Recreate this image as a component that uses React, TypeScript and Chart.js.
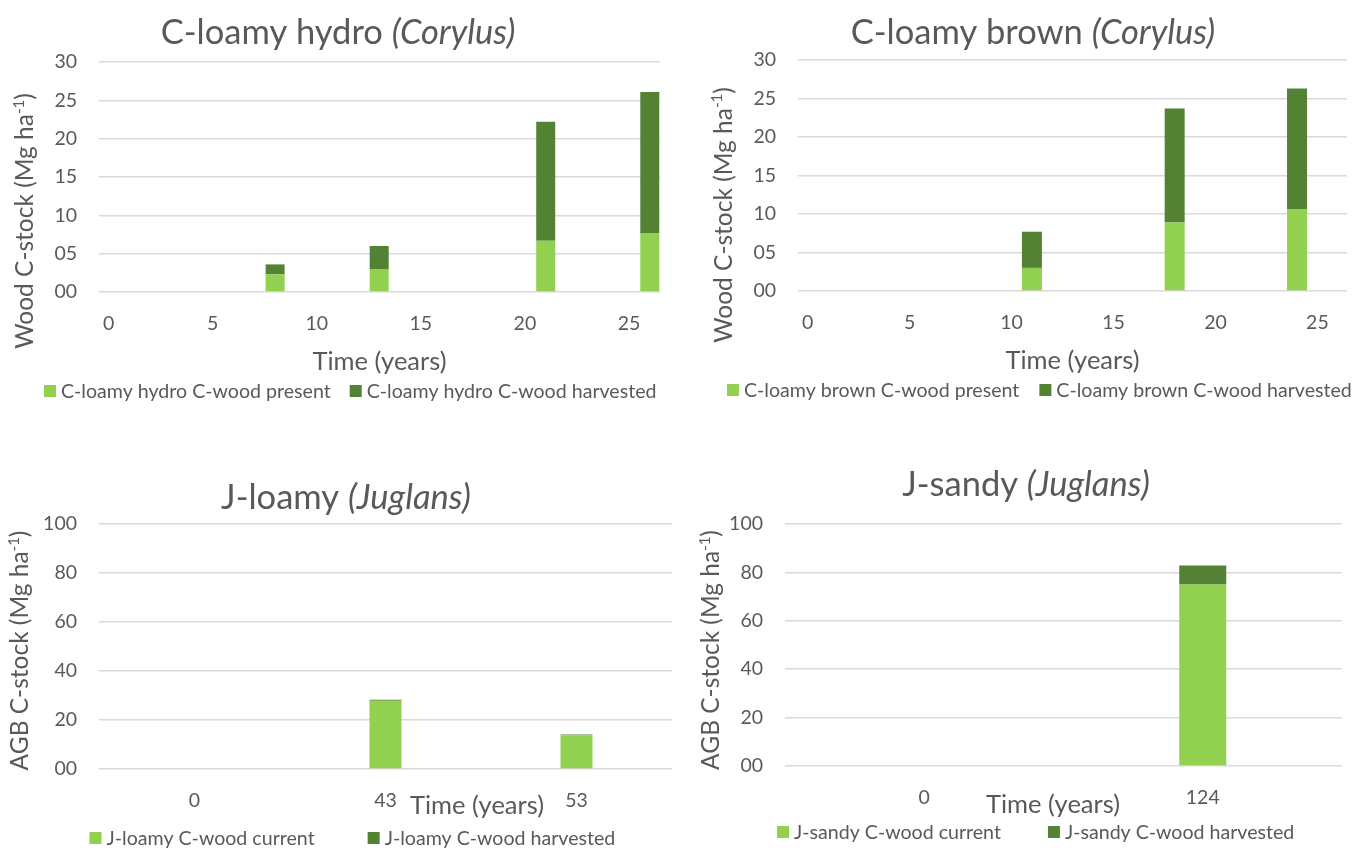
import React, { useEffect, useRef } from 'react';
import { Chart, registerables } from 'chart.js';

Chart.register(...registerables);

const FONT = 'Lato';
const TEXT = '#595959';
const LIGHT = '#92D050';
const DARK = '#548235';
const GRID = '#D9D9D9';

// C-loamy hydro (Corylus)
const hydroYears = [8, 13, 21, 26];
const hydroPresent = [2.3, 3.0, 6.7, 7.7];
const hydroHarvested = [1.3, 3.0, 15.5, 18.4];

// C-loamy brown (Corylus)
const brownYears = [11, 18, 24];
const brownPresent = [3.0, 8.9, 10.6];
const brownHarvested = [4.7, 14.8, 15.7];

const timeTicks = [0, 5, 10, 15, 20, 25];

// J-loamy (Juglans)
const jLoamyCats = ['0', '43', '53'];
const jLoamyCurrent = [0, 27.9, 13.8];
const jLoamyHarvested = [0, 0.4, 0.3];

// J-sandy (Juglans)
const jSandyCats = ['0', '124'];
const jSandyCurrent = [0, 75.0];
const jSandyHarvested = [0, 7.8];

type Panel = {
  x: number; y: number; w: number; h: number;
  area: { l: number; t: number; r: number; b: number };
  title: [string, string]; titleX: number; titleBase: number;
  xTitleX: number; xTitleBase: number;
  yTitle: string; yTitleBase: number; yTitleY: number;
  legend: [string, string]; legendX: number; legendY: number; legendGap: number;
  barW: number;
  kind: 'linear' | 'category';
  xMin?: number; xMax?: number;
  years?: number[]; cats?: string[];
  a: number[]; b: number[];
  yMax: number; yStep: number;
};

const panels: Panel[] = [
  {
    x: 0, y: 0, w: 680, h: 424,
    area: { l: 99, t: 62, r: 660, b: 292 },
    title: ['C-loamy hydro ', '(Corylus)'], titleX: 338, titleBase: 44,
    xTitleX: 379.5, xTitleBase: 370,
    yTitle: 'Wood C-stock (Mg ha', yTitleBase: 33, yTitleY: 221,
    legend: ['C-loamy hydro C-wood present', 'C-loamy hydro C-wood harvested'],
    legendX: 44, legendY: 391, legendGap: 19,
    barW: 19, kind: 'linear', xMin: -0.46, xMax: 26.49,
    years: hydroYears, a: hydroPresent, b: hydroHarvested, yMax: 30, yStep: 5,
  },
  {
    x: 680, y: 0, w: 682, h: 424,
    area: { l: 118, t: 60, r: 667, b: 291 },
    title: ['C-loamy brown ', '(Corylus)'], titleX: 353, titleBase: 44,
    xTitleX: 392.5, xTitleBase: 369.3,
    yTitle: 'Wood C-stock (Mg ha', yTitleBase: 51.5, yTitleY: 215,
    legend: ['C-loamy brown C-wood present', 'C-loamy brown C-wood harvested'],
    legendX: 47, legendY: 390, legendGap: 20,
    barW: 20, kind: 'linear', xMin: -0.47, xMax: 26.45,
    years: brownYears, a: brownPresent, b: brownHarvested, yMax: 30, yStep: 5,
  },
  {
    x: 0, y: 424, w: 680, h: 424,
    area: { l: 99, t: 100, r: 672, b: 345 },
    title: ['J-loamy ', '(Juglans)'], titleX: 346, titleBase: 84.5,
    xTitleX: 477, xTitleBase: 390,
    yTitle: 'AGB C-stock (Mg ha', yTitleBase: 28.4, yTitleY: 226.5,
    legend: ['J-loamy C-wood current', 'J-loamy C-wood harvested'],
    legendX: 89.5, legendY: 414, legendGap: 53,
    barW: 32, kind: 'category', cats: jLoamyCats,
    a: jLoamyCurrent, b: jLoamyHarvested, yMax: 100, yStep: 20,
  },
  {
    x: 680, y: 424, w: 682, h: 424,
    area: { l: 105, t: 100, r: 662, b: 342 },
    title: ['J-sandy ', '(Juglans)'], titleX: 346, titleBase: 71.5,
    xTitleX: 373, xTitleBase: 388.7,
    yTitle: 'AGB C-stock (Mg ha', yTitleBase: 39.3, yTitleY: 226,
    legend: ['J-sandy C-wood current', 'J-sandy C-wood harvested'],
    legendX: 97, legendY: 408, legendGap: 47,
    barW: 47, kind: 'category', cats: jSandyCats,
    a: jSandyCurrent, b: jSandyHarvested, yMax: 100, yStep: 20,
  },
];

const TITLE_SIZE = 34.5;
const X_TITLE_SIZE = 25.5;
const Y_TITLE_SIZE = 24.5;
const TICK_SIZE = 19.5;
const LEGEND_SIZE = 19.6;

function makeDecor(p: Panel) {
  return {
    id: 'decor',
    afterDraw(chart: any) {
      const ctx = chart.ctx as CanvasRenderingContext2D;
      ctx.save();
      ctx.fillStyle = TEXT;
      // Title
      const nf = `${TITLE_SIZE}px ${FONT}`;
      const itf = `italic ${TITLE_SIZE}px ${FONT}`;
      ctx.textBaseline = 'alphabetic';
      ctx.textAlign = 'left';
      ctx.font = nf;
      const w1 = ctx.measureText(p.title[0]).width;
      ctx.font = itf;
      const w2 = ctx.measureText(p.title[1]).width;
      const tx = p.titleX - (w1 + w2) / 2;
      ctx.font = nf;
      ctx.fillText(p.title[0], tx, p.titleBase);
      ctx.font = itf;
      ctx.fillText(p.title[1], tx + w1, p.titleBase);

      // X axis title
      ctx.font = `${X_TITLE_SIZE}px ${FONT}`;
      ctx.textAlign = 'center';
      ctx.fillText('Time (years)', p.xTitleX, p.xTitleBase);

      // Y axis title (rotated, with superscript)
      ctx.save();
      ctx.translate(p.yTitleBase, p.yTitleY);
      ctx.rotate(-Math.PI / 2);
      ctx.textAlign = 'left';
      const mf = `${Y_TITLE_SIZE}px ${FONT}`;
      const sf = `${Math.round(Y_TITLE_SIZE * 0.62)}px ${FONT}`;
      ctx.font = mf;
      const a1 = ctx.measureText(p.yTitle).width;
      const a3 = ctx.measureText(')').width;
      ctx.font = sf;
      const a2 = ctx.measureText('-1').width;
      const sx = -(a1 + a2 + a3) / 2;
      ctx.font = mf;
      ctx.fillText(p.yTitle, sx, 0);
      ctx.font = sf;
      ctx.fillText('-1', sx + a1, -Y_TITLE_SIZE * 0.38);
      ctx.font = mf;
      ctx.fillText(')', sx + a1 + a2, 0);
      ctx.restore();

      // Legend
      ctx.font = `${LEGEND_SIZE}px ${FONT}`;
      ctx.textAlign = 'left';
      ctx.textBaseline = 'middle';
      const cols = [LIGHT, DARK];
      let lx = p.legendX;
      p.legend.forEach((lab, i) => {
        ctx.fillStyle = cols[i];
        ctx.fillRect(lx, p.legendY - 6, 12, 12);
        lx += 12 + 5;
        ctx.fillStyle = TEXT;
        ctx.fillText(lab, lx, p.legendY + 1);
        lx += ctx.measureText(lab).width + p.legendGap;
      });
      ctx.restore();
    },
  };
}

function buildConfig(p: Panel): any {
  const isLin = p.kind === 'linear';
  const dsA = isLin ? p.years!.map((yr, i) => ({ x: yr, y: p.a[i] })) : p.a;
  const dsB = isLin ? p.years!.map((yr, i) => ({ x: yr, y: p.b[i] })) : p.b;
  const tickFont = { family: FONT, size: TICK_SIZE };
  const xScale: any = {
    type: isLin ? 'linear' : 'category',
    stacked: true,
    grid: { display: false, drawTicks: false },
    border: { display: false },
    ticks: {
      font: tickFont, color: TEXT, padding: 20, maxRotation: 0, autoSkip: false,
    },
    afterFit: (s: any) => { s.height = p.h - p.area.b; },
  };
  if (isLin) {
    xScale.min = p.xMin;
    xScale.max = p.xMax;
    xScale.offset = false;
    xScale.afterBuildTicks = (s: any) => { s.ticks = timeTicks.map((v) => ({ value: v })); };
    xScale.ticks.callback = (v: number) => String(v);
  }
  const common = { borderWidth: 0, barThickness: p.barW, inflateAmount: 0 };
  return {
    type: 'bar',
    data: {
      labels: isLin ? undefined : p.cats,
      datasets: [
        { label: p.legend[0], data: dsA, backgroundColor: LIGHT, ...common },
        { label: p.legend[1], data: dsB, backgroundColor: DARK, ...common },
      ],
    },
    options: {
      responsive: false,
      animation: false,
      devicePixelRatio: 1,
      layout: { padding: { top: p.area.t, right: p.w - p.area.r, bottom: 0, left: 0 } },
      plugins: {
        legend: { display: false },
        title: { display: false },
        tooltip: { enabled: false },
      },
      scales: {
        x: xScale,
        y: {
          stacked: true,
          min: 0,
          max: p.yMax,
          ticks: {
            stepSize: p.yStep,
            font: tickFont,
            color: TEXT,
            padding: 22,
            callback: (v: number) => String(v).padStart(2, '0'),
          },
          grid: { color: GRID, lineWidth: 1.5, drawTicks: false },
          border: { display: false },
          afterFit: (s: any) => { s.width = p.area.l; },
        },
      },
    },
    plugins: [makeDecor(p)],
  };
}

function ChartPanel({ p }: { p: Panel }) {
  const ref = useRef<HTMLCanvasElement | null>(null);
  useEffect(() => {
    if (!ref.current) return;
    const chart = new Chart(ref.current, buildConfig(p));
    return () => chart.destroy();
  }, [p]);
  return (
    <div style={{ position: 'absolute', left: p.x, top: p.y, width: p.w, height: p.h }}>
      <canvas ref={ref} width={p.w} height={p.h} style={{ width: p.w, height: p.h, display: 'block' }} />
    </div>
  );
}

export default function App() {
  return (
    <div style={{ position: 'absolute', left: 0, top: 0, width: 1362, height: 848, background: '#ffffff', overflow: 'hidden' }}>
      {panels.map((p, i) => (
        <ChartPanel key={i} p={p} />
      ))}
    </div>
  );
}
